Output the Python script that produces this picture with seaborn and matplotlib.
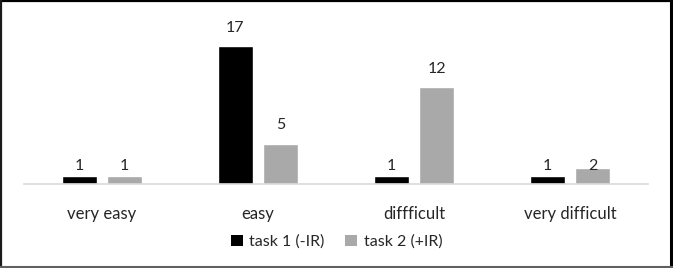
import matplotlib
matplotlib.use("Agg")
import matplotlib.pyplot as plt
import seaborn as sns
import pandas as pd
from matplotlib.lines import Line2D
from matplotlib.patches import Patch

categories = ["very easy", "easy", "diffficult", "very difficult"]
series_names = ["task 1 (-IR)", "task 2 (+IR)"]
task1_values = [1, 17, 1, 1]
task2_values = [1, 5, 12, 2]
colors = ["#000000", "#a9a9a9"]

df = pd.DataFrame({
    "category": categories * 2,
    "series": [series_names[0]] * 4 + [series_names[1]] * 4,
    "value": task1_values + task2_values,
})

sns.set_theme(style="white")
plt.rcParams["font.family"] = ["Lato", "DejaVu Sans"]

fig = plt.figure(figsize=(6.73, 2.68), dpi=100)
ax = fig.add_axes([24 / 673, 1 - 184 / 268, 624 / 673, 162 / 268])

sns.barplot(data=df, x="category", y="value", hue="series", order=categories,
            hue_order=series_names, palette=colors, width=0.58, gap=0.228,
            saturation=1, ax=ax, legend=False)

ax.set_xlim(-0.5, 3.5)
ax.set_ylim(0, 20)
ax.set_xlabel("")
ax.set_ylabel("")
ax.set_yticks([])
for s in ["top", "right", "left"]:
    ax.spines[s].set_visible(False)
ax.spines["bottom"].set_color("#d9d9d9")
ax.spines["bottom"].set_linewidth(1.2)
ax.tick_params(axis="x", length=0, pad=16, labelsize=12, colors="#262626")

for container in ax.containers:
    for bar in container:
        v = bar.get_height()
        x = bar.get_x() + bar.get_width() / 2
        ly = v + 1.75 if v >= 5 else 1.75
        ax.text(x, ly, f"{int(v)}", ha="center", va="baseline",
                fontsize=11.5, color="#262626")

handles = [Patch(facecolor=c, edgecolor="none") for c in colors]
fig.legend(handles, series_names, loc="center", bbox_to_anchor=(0.5, 1 - 242 / 268),
           ncol=2, frameon=False, fontsize=11.5, handlelength=0.75, handleheight=0.75,
           handletextpad=0.4, columnspacing=1.3, labelcolor="#262626")

# outer frame
fig.add_artist(Line2D([0, 1], [1 - 1 / 268, 1 - 1 / 268], transform=fig.transFigure, color="black", lw=1.6))
fig.add_artist(Line2D([1 / 673, 1 / 673], [0, 1], transform=fig.transFigure, color="#1a1a1a", lw=1.6))
fig.add_artist(Line2D([670.5 / 673, 670.5 / 673], [0, 1], transform=fig.transFigure, color="black", lw=2.2))
fig.add_artist(Line2D([0, 1], [1 / 268, 1 / 268], transform=fig.transFigure, color="#606060", lw=1.5))

fig.savefig("out.png", dpi=100)
